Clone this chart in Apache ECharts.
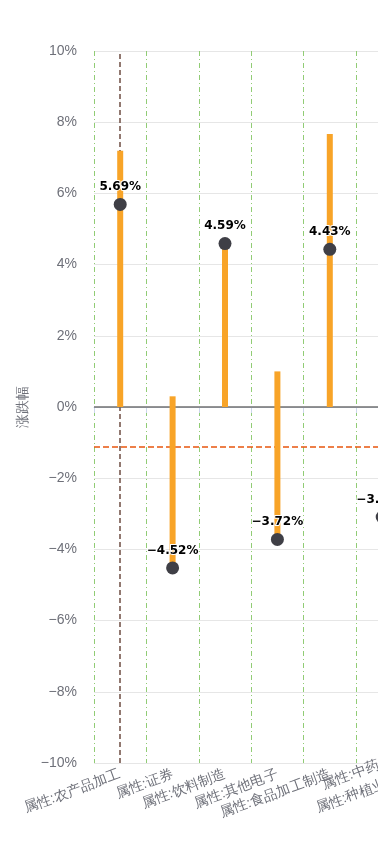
<!DOCTYPE html>
<html>
<head>
<meta charset="utf-8">
<script src="https://cdn.jsdelivr.net/npm/echarts@6/dist/echarts.min.js"></script>
<style>
html,body{margin:0;padding:0;background:#fff;}
#wrap{width:378px;height:847px;overflow:hidden;position:relative;}
#chart{width:500px;height:847px;position:absolute;left:0;top:0;}
</style>
</head>
<body>
<div id="wrap"><div id="chart"></div></div>
<script>
// ---- data ----
var categories = ['属性:农产品加工', '属性:证券', '属性:饮料制造', '属性:其他电子', '属性:食品加工制造', '属性:中药\n属性:种植业'];
var highValues = [7.2, 0.3, 4.59, 1.0, 7.67, 0];
var lowValues = [0, -4.52, 0, -3.72, 0, -3.09];
var closeValues = [5.69, -4.52, 4.59, -3.72, 4.43, -3.09];
var avgLineValue = -1.12;
var zeroLineValue = 0;
var yTicks = [-10, -8, -6, -4, -2, 0, 2, 4, 6, 8, 10];

function fmtPct(v, d) {
  var s = d != null ? Math.abs(v).toFixed(d) : String(Math.abs(v));
  return (v < 0 ? '\u2212' : '') + s + '%';
}

var chart = echarts.init(document.getElementById('chart'), null, {renderer: 'canvas'});
var labelColor = '#6e7079';
chart.setOption({
  animation: false,
  grid: {left: 94, right: 91.6, top: 51, bottom: 84},
  xAxis: {
    type: 'category',
    data: categories,
    axisLine: {lineStyle: {color: '#ccd6eb', width: 1}},
    axisTick: {show: true, length: 6, lineStyle: {color: '#ccd6eb'}},
    axisLabel: {rotate: 20, color: labelColor, fontSize: 14, margin: 11, interval: 0, lineHeight: 20},
    splitLine: {show: true, lineStyle: {color: '#91cc75', type: [5, 3, 1, 3], width: 1}}
  },
  yAxis: {
    type: 'value',
    min: yTicks[0],
    max: yTicks[yTicks.length - 1],
    interval: 2,
    name: '涨跌幅',
    nameLocation: 'middle',
    nameGap: 64,
    nameTextStyle: {color: labelColor, fontSize: 14},
    axisLine: {show: false},
    axisTick: {show: false},
    axisLabel: {color: labelColor, fontSize: 14, margin: 17, formatter: function (v) { return fmtPct(v); }},
    splitLine: {lineStyle: {color: '#e6e6e6', width: 1}}
  },
  series: [
    {
      type: 'line',
      data: [],
      z: 1,
      silent: true,
      markLine: {
        symbol: 'none',
        silent: true,
        z: 1,
        label: {show: false},
        data: [
          {xAxis: 0, lineStyle: {color: '#6d4c41', type: [5, 3], width: 1.5}},
          {yAxis: zeroLineValue, lineStyle: {color: '#707070', type: 'solid', width: 1.5}},
          {yAxis: avgLineValue, lineStyle: {color: '#e8560e', type: [6, 3], width: 1.5}}
        ]
      }
    },
    {
      type: 'bar',
      data: highValues,
      barWidth: 6,
      z: 3,
      itemStyle: {color: '#f8a428'}
    },
    {
      type: 'bar',
      data: lowValues,
      barWidth: 6,
      barGap: '-100%',
      z: 3,
      itemStyle: {color: '#f8a428'}
    },
    {
      type: 'scatter',
      data: closeValues,
      symbolSize: 13,
      z: 5,
      itemStyle: {color: '#3f3f46', opacity: 1},
      label: {
        show: true,
        position: 'top',
        distance: 5,
        color: '#000',
        fontSize: 12,
        fontWeight: 'bold',
        fontFamily: 'DejaVu Sans',
        textBorderColor: '#fff',
        textBorderWidth: 2,
        formatter: function (p) { return fmtPct(p.value, 2); }
      }
    }
  ]
});
</script>
</body>
</html>
